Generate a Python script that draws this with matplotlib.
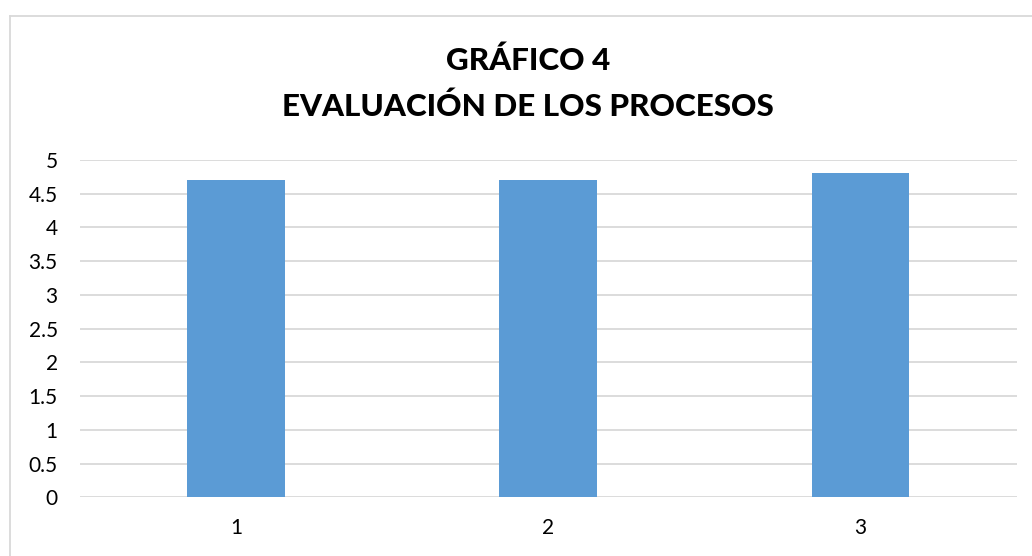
import matplotlib
matplotlib.use("Agg")
import matplotlib.pyplot as plt
from matplotlib.lines import Line2D

categories = ["1", "2", "3"]
values = [4.7, 4.7, 4.8]
yticks = [0, 0.5, 1, 1.5, 2, 2.5, 3, 3.5, 4, 4.5, 5]
ytick_labels = ["0", "0.5", "1", "1.5", "2", "2.5", "3", "3.5", "4", "4.5", "5"]
title_lines = ["GRÁFICO 4", "EVALUACIÓN DE LOS PROCESOS"]

plt.rcParams["font.family"] = ["Lato", "DejaVu Sans"]

W, H = 1032, 556
fig = plt.figure(figsize=(W / 100, H / 100), dpi=100)
ax = fig.add_axes([80 / W, 1 - 497.3 / H, (1016.7 - 80) / W, (497.3 - 160) / H])

x = range(1, len(categories) + 1)
ax.bar(x, values, width=0.313, color="#5B9BD5", zorder=3)

ax.set_xlim(0.5, len(categories) + 0.5)
ax.set_ylim(0, 5)
ax.set_yticks(yticks)
ax.set_yticklabels(ytick_labels)
ax.set_xticks(list(x))
ax.set_xticklabels(categories)
ax.tick_params(length=0, labelsize=15, colors="black")
ax.tick_params(axis="y", pad=16)
ax.tick_params(axis="x", pad=15)
ax.grid(axis="y", color="#D9D9D9", linewidth=1.3, zorder=0)
for s in ax.spines.values():
    s.set_visible(False)

fig.text(528 / W, 1 - 61 / H, title_lines[0], ha="center", va="center",
         fontsize=22.6, fontweight="black")
fig.text(528 / W, 1 - 107 / H, title_lines[1], ha="center", va="center",
         fontsize=22.6, fontweight="black")

# chart border (left and top edges visible)
fig.add_artist(Line2D([9.5 / W, 9.5 / W], [0, 1 - 15.5 / H], transform=fig.transFigure,
                      color="#D9D9D9", linewidth=1.3))
fig.add_artist(Line2D([9.5 / W, 1], [1 - 15.5 / H, 1 - 15.5 / H], transform=fig.transFigure,
                      color="#D9D9D9", linewidth=1.3))

fig.savefig("out.png", dpi=100, facecolor="white")
